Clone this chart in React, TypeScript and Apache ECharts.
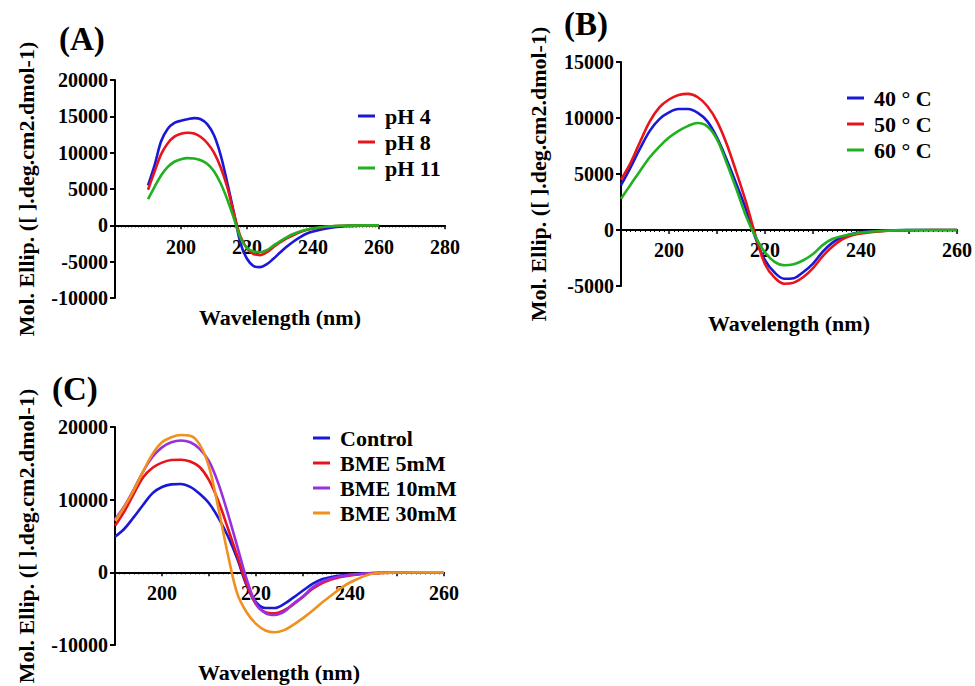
import { useEffect, useRef } from "react";
import * as echarts from "echarts";

// Wavelength sampling (nm) shared by every curve
const WAVELENGTHS = [
  190, 192, 194, 196, 198, 200, 202, 204, 206, 208, 210, 212, 214, 216, 218,
  220, 222, 224, 226, 228, 230, 232, 234, 236, 238, 240, 245, 250, 255, 260,
];

// Panel A: pH
const PH4 = [5500, 8300, 11600, 13300, 14100, 14400, 14600, 14750, 14600, 13900, 12400, 9700, 5900, 1800, -2400, -4600, -5600, -5750, -5350, -4600, -3750, -2950, -2250, -1650, -1150, -850, -350, -120, -30, 0];
const PH8 = [4900, 7400, 9800, 11300, 12200, 12600, 12750, 12650, 12150, 11300, 10000, 8000, 5300, 1700, -1500, -3200, -3950, -4100, -3700, -3000, -2350, -1800, -1350, -950, -650, -450, -150, -50, 0, 0];
const PH11 = [3600, 5300, 6900, 8050, 8750, 9100, 9250, 9200, 8950, 8450, 7450, 5800, 3600, 1000, -1700, -3100, -3600, -3700, -3400, -2800, -2200, -1650, -1200, -850, -600, -400, -130, -40, 0, 0];

// Panel B: temperature
const T40 = [4000, 5600, 7300, 8850, 9900, 10500, 10800, 10800, 10450, 9700, 8250, 6300, 4150, 1900, -700, -2700, -3800, -4350, -4300, -3750, -3000, -1950, -1150, -650, -350, -200, -60, -10, 0, 0];
const T50 = [4500, 6000, 7900, 9700, 10950, 11650, 12050, 12150, 11850, 11050, 9700, 7700, 5200, 2550, -450, -3050, -4250, -4800, -4700, -4200, -3400, -2350, -1500, -850, -500, -300, -80, -20, 0, 0];
const T60 = [2800, 4050, 5300, 6500, 7450, 8250, 8850, 9300, 9550, 9250, 8100, 6000, 3700, 1300, -600, -2000, -2850, -3150, -3050, -2700, -2150, -1350, -800, -550, -380, -230, -70, -10, 0, 0];

// Panel C: BME
const CONTROL = [4900, 6000, 7600, 9300, 10900, 11750, 12100, 12150, 11750, 10800, 9500, 7500, 5000, 1900, -1800, -4100, -4900, -4900, -4350, -3450, -2500, -1600, -950, -650, -450, -300, -100, -20, 0, 0];
const BME5 = [6400, 8400, 10800, 13100, 14400, 15100, 15450, 15500, 15250, 14500, 12700, 9800, 6100, 2300, -1600, -4400, -5500, -5650, -5200, -4400, -3400, -2300, -1500, -1000, -650, -420, -120, -30, 0, 0];
const BME10 = [7300, 9100, 11400, 13900, 15900, 17200, 17900, 18150, 17900, 17000, 15300, 12200, 8100, 3600, -900, -4300, -5600, -5850, -5400, -4300, -3300, -2100, -1300, -850, -550, -350, -100, -20, 0, 0];
const BME30 = [7100, 9000, 11300, 13900, 16300, 17900, 18600, 18900, 18800, 17600, 14500, 8800, 2500, -2900, -5500, -7100, -8000, -8250, -7950, -7200, -6300, -5300, -4200, -3200, -2200, -1400, -150, -30, 0, 0];

const NAMES_A = ["pH 4", "pH 8", "pH 11"];
const NAMES_B = ["40 ° C", "50 ° C", "60 ° C"];
const NAMES_C = ["Control", "BME 5mM", "BME 10mM", "BME 30mM"];

const BLUE = "#1818d6";
const RED = "#e8141c";
const GREEN = "#20b020";
const PURPLE = "#9a2fe0";
const ORANGE = "#f0901e";

const FONT = "Liberation Serif";
const Y_NAME = "Mol. Ellip. ([ ].deg.cm2.dmol-1)";
const X_NAME = "Wavelength (nm)";

export default function App() {
  const ref = useRef<HTMLDivElement>(null);

  useEffect(() => {
    if (!ref.current) return;
    const chart = echarts.init(ref.current, null, { renderer: "svg" });

    const txt = (size: number) => ({
      fontFamily: FONT,
      fontWeight: "bold" as const,
      fontSize: size,
      color: "#000",
    });

    // labelMargin is measured from the grid's bottom edge; it is negative so
    // that the tick labels sit just under the zero line, as in the reference.
    const xAxisFor = (gridIndex: number, min: number, max: number, interval: number, labelMargin: number) => ({
      type: "value",
      gridIndex,
      min,
      max,
      interval,
      axisLine: { show: true, onZero: true, lineStyle: { color: "#000", width: 2 } },
      axisTick: { show: true, length: 4, lineStyle: { color: "#000", width: 1.5 } },
      minorTick: { show: true, splitNumber: interval, length: 2, lineStyle: { color: "#000", width: 1 } },
      axisLabel: {
        ...txt(20),
        margin: labelMargin,
        formatter: (v: number) => (v % 20 === 0 && v !== min ? String(v) : ""),
      },
      splitLine: { show: false },
    });

    const yAxisFor = (gridIndex: number, min: number, max: number, interval: number, gap: number) => ({
      type: "value",
      gridIndex,
      min,
      max,
      interval,
      name: Y_NAME,
      nameLocation: "middle",
      nameGap: gap,
      nameMoveOverlap: false,
      nameTextStyle: txt(22),
      axisLine: { show: true, onZero: false, lineStyle: { color: "#000", width: 2 } },
      axisTick: { show: true, length: 5, lineStyle: { color: "#000", width: 2 } },
      axisLabel: { ...txt(20), margin: 7, formatter: (v: number) => String(v) },
      splitLine: { show: false },
    });

    const mk = (name: string, values: number[], color: string, idx: number) => ({
      name,
      type: "line",
      xAxisIndex: idx,
      yAxisIndex: idx,
      data: WAVELENGTHS.map((w, i) => [w, values[i]]),
      smooth: 0.35,
      showSymbol: false,
      symbol: "none",
      color,
      lineStyle: { color, width: 2.6 },
      z: 3,
    });

    const legendFor = (data: string[], left: number, top: number, gap: number) => ({
      data,
      orient: "vertical",
      left,
      top,
      icon: "rect",
      itemWidth: 17,
      itemHeight: 3,
      itemGap: gap,
      selectedMode: false,
      textStyle: { ...txt(22), padding: [0, 0, 0, 5] },
    });

    const label = (text: string, left: number, top: number, size: number) => ({
      type: "text",
      left,
      top,
      style: { text, fontFamily: FONT, fontWeight: "bold", fontSize: size, fill: "#000" },
    });

    const xName = (cx: number, cy: number) => ({
      type: "text",
      x: cx,
      y: cy,
      style: {
        text: X_NAME,
        fontFamily: FONT,
        fontWeight: "bold",
        fontSize: 22,
        fill: "#000",
        align: "center",
        verticalAlign: "middle",
      },
    });

    const option = {
      animation: false,
      backgroundColor: "#fff",
      textStyle: { fontFamily: FONT },
      grid: [
        { left: 115, top: 80, width: 330, height: 218 },
        { left: 621, top: 62, width: 336, height: 224 },
        { left: 115, top: 427, width: 329, height: 218 },
      ],
      xAxis: [
        xAxisFor(0, 180, 280, 20, -61),
        xAxisFor(1, 190, 260, 10, -46),
        xAxisFor(2, 190, 260, 10, -62),
      ],
      yAxis: [
        yAxisFor(0, -10000, 20000, 5000, 78),
        yAxisFor(1, -5000, 15000, 5000, 72),
        yAxisFor(2, -10000, 20000, 10000, 78),
      ],
      legend: [
        legendFor(NAMES_A, 353, 100, 4),
        legendFor(NAMES_B, 842, 82, 4),
        legendFor(NAMES_C, 308, 422, 3),
      ],
      series: [
        mk(NAMES_A[0], PH4, BLUE, 0),
        mk(NAMES_A[1], PH8, RED, 0),
        mk(NAMES_A[2], PH11, GREEN, 0),
        mk(NAMES_B[0], T40, BLUE, 1),
        mk(NAMES_B[1], T50, RED, 1),
        mk(NAMES_B[2], T60, GREEN, 1),
        mk(NAMES_C[0], CONTROL, BLUE, 2),
        mk(NAMES_C[1], BME5, RED, 2),
        mk(NAMES_C[2], BME10, PURPLE, 2),
        mk(NAMES_C[3], BME30, ORANGE, 2),
      ],
      graphic: [
        label("(A)", 59, 22, 33),
        label("(B)", 564, 7, 33),
        label("(C)", 52, 372, 33),
        xName(280, 317),
        xName(789, 323),
        xName(279, 672),
      ],
    };

    chart.setOption(option as any);
    return () => chart.dispose();
  }, []);

  return (
    <div
      ref={ref}
      style={{ position: "fixed", left: 0, top: 0, width: 975, height: 686, background: "#fff" }}
    />
  );
}
